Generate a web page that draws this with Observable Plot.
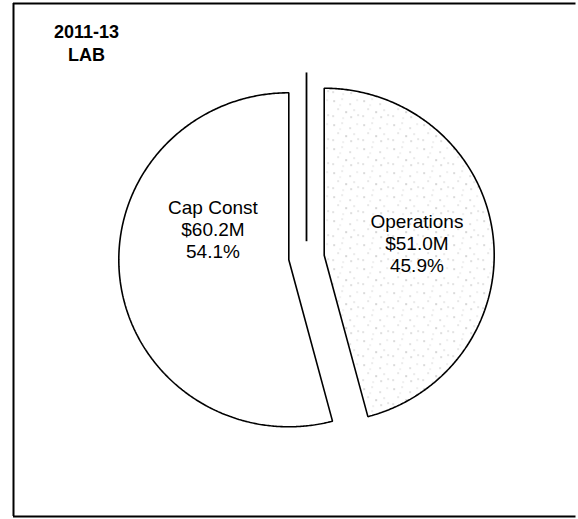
<!DOCTYPE html>
<html><head><meta charset="utf-8">
<script src="https://cdn.jsdelivr.net/npm/d3@7"></script>
<script src="https://cdn.jsdelivr.net/npm/@observablehq/plot@0.6"></script>
<style>html,body{margin:0;padding:0;background:#fff;overflow:hidden}
#chart{position:relative;width:578px;height:519px;overflow:hidden}
#chart svg{display:block;max-width:none}</style>
</head><body><div id="chart"></div>
<script>
// ---- data ----
const titleLines = ["2011-13", "LAB"];
const categories = ["Operations", "Cap Const"];
const amounts = [51.0, 60.2];      // $M
const shares = [45.9, 54.1];       // %

// ---- layout (pixels) ----
const W = 578, H = 519;
const Rx = 170, Ry = 167;      // pie radius in px (scan is slightly stretched)
const cx = 306, cy = 257;      // pie centre in px
const explode = 0.105;         // explosion in radius units
const mL = 13, mT = 3, mB = 3, mR = 0;
const xDomain = [(mL - cx) / Rx, (W - mR - cx) / Rx];
const yDomain = [-(H - mB - cy) / Ry, (cy - mT) / Ry];

const total = d3.sum(amounts);
let acc = 0;
const slices = categories.map((c, i) => {
  const a0 = acc, a1 = acc + amounts[i] / total * 2 * Math.PI;
  acc = a1;
  const mid = (a0 + a1) / 2;
  return {category: c, amount: amounts[i], share: shares[i], a0, a1, mid,
          ox: explode * Math.sin(mid), oy: explode * Math.cos(mid)};
});

function slicePath(s) {
  const pts = [{x: s.ox, y: s.oy}];
  const n = Math.max(2, Math.ceil((s.a1 - s.a0) / (Math.PI / 360)));
  for (let k = 0; k <= n; k++) {
    const a = s.a0 + (s.a1 - s.a0) * k / n;
    pts.push({x: s.ox + Math.sin(a), y: s.oy + Math.cos(a)});
  }
  pts.push({x: s.ox, y: s.oy});
  return pts;
}

const fills = {"Operations": "url(#stipple)", "Cap Const": "white"};
const labelR = {"Operations": 0.55, "Cap Const": 0.45};
const labelDy = {"Operations": 0, "Cap Const": -41};

const labelText = s => `${s.category}\n$${s.amount.toFixed(1)}M\n${s.share.toFixed(1)}%`;

const marks = [];
for (const s of slices) {
  marks.push(Plot.line(slicePath(s), {x: "x", y: "y", fill: fills[s.category],
    stroke: "black", strokeWidth: 1.6, strokeLinejoin: "miter"}));
}
marks.push(Plot.ruleX([0], {y1: explode * 0.9, y2: 1.105, stroke: "black", strokeWidth: 1.8}));
for (const s of slices) {
  const r = labelR[s.category];
  marks.push(Plot.text([s], {
    x: d => d.ox + r * Math.sin(d.mid),
    y: d => d.oy + r * Math.cos(d.mid),
    text: labelText, dy: labelDy[s.category],
    fontSize: 19, lineHeight: 22 / 19, fill: "black"
  }));
}
marks.push(Plot.text([titleLines.join("\n")], {
  frameAnchor: "top-left", dx: 73, dy: 38.5, text: d => d,
  textAnchor: "middle", lineAnchor: "middle",
  fontSize: 18, fontWeight: "bold", lineHeight: 23 / 18, fill: "black"
}));
// box: left, top and bottom edges (right edge lies outside the picture)
marks.push(Plot.ruleX([xDomain[0]], {stroke: "black", strokeWidth: 2}));
marks.push(Plot.ruleY([yDomain[0], yDomain[1]], {stroke: "black", strokeWidth: 2}));
// keep the right edge open
marks.push(Plot.ruleX([xDomain[1]], {y1: yDomain[0], y2: yDomain[1], insetTop: 2, insetBottom: 2, stroke: "white", strokeWidth: 6}));

const svg = Plot.plot({
  width: W, height: H,
  marginLeft: mL, marginTop: mT, marginBottom: mB, marginRight: mR,
  x: {domain: xDomain, axis: null},
  y: {domain: yDomain, axis: null},
  style: {background: "white", fontFamily: "'Liberation Sans', Arial, sans-serif"},
  marks
});
svg.querySelectorAll("text").forEach(t => { if (t.getAttribute("font-weight") === "bold") t.setAttribute("letter-spacing", "0.6"); });

// stipple texture for the Operations slice
const NS = "http://www.w3.org/2000/svg";
const dots = [
  [3,4,"#9a9a9a"],[11,2,"#c8c8c8"],[19,7,"#aaaaaa"],[26,3,"#d0d0d0"],
  [7,12,"#bdbdbd"],[15,15,"#8c8c8c"],[23,13,"#c4c4c4"],[2,19,"#b0b0b0"],
  [12,21,"#d4d4d4"],[20,20,"#a4a4a4"],[27,18,"#bababa"],[9,8,"#dadada"]
];
const defsEl = document.createElementNS(NS, "defs");
const pat = document.createElementNS(NS, "pattern");
pat.setAttribute("id", "stipple");
pat.setAttribute("width", "30");
pat.setAttribute("height", "24");
pat.setAttribute("patternUnits", "userSpaceOnUse");
const bg = document.createElementNS(NS, "rect");
bg.setAttribute("width", "30"); bg.setAttribute("height", "24"); bg.setAttribute("fill", "#fff");
pat.appendChild(bg);
for (const [x, y, c] of dots) {
  const r = document.createElementNS(NS, "rect");
  r.setAttribute("x", x); r.setAttribute("y", y);
  r.setAttribute("width", "1.2"); r.setAttribute("height", "1.2");
  r.setAttribute("fill", c);
  pat.appendChild(r);
}
defsEl.appendChild(pat);
svg.insertBefore(defsEl, svg.firstChild);
document.getElementById("chart").appendChild(svg);
</script>
</body></html>
